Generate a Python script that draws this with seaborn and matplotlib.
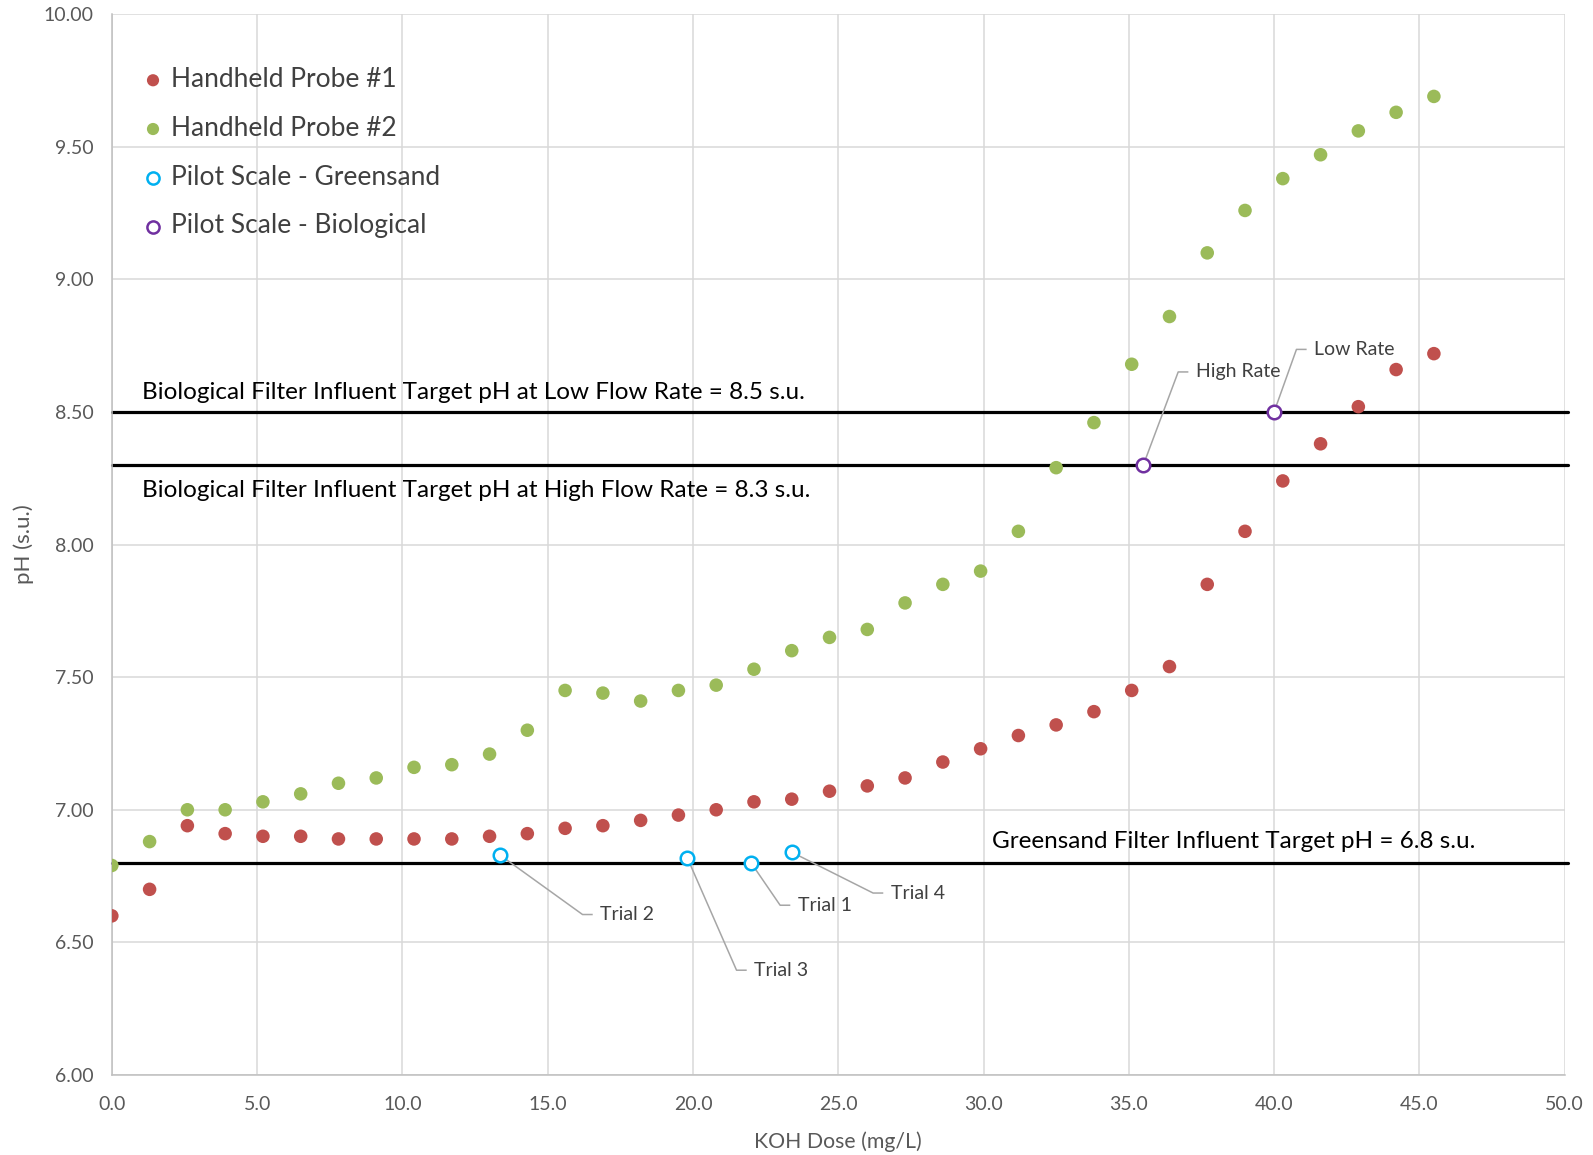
import numpy as np
import pandas as pd
import matplotlib
matplotlib.use("Agg")
import matplotlib.pyplot as plt
import seaborn as sns

# KOH dose (mg/L) for the handheld probe titration
dose = [0.0, 1.3, 2.6, 3.9, 5.2, 6.5, 7.8, 9.1, 10.4, 11.7, 13.0, 14.3,
        15.6, 16.9, 18.2, 19.5, 20.8, 22.1, 23.4, 24.7, 26.0, 27.3, 28.6, 29.9,
        31.2, 32.5, 33.8, 35.1, 36.4, 37.7, 39.0, 40.3, 41.6, 42.9, 44.2, 45.5]
probe1 = [6.60, 6.70, 6.94, 6.91, 6.90, 6.90, 6.89, 6.89, 6.89, 6.89, 6.90, 6.91,
          6.93, 6.94, 6.96, 6.98, 7.00, 7.03, 7.04, 7.07, 7.09, 7.12, 7.18, 7.23,
          7.28, 7.32, 7.37, 7.45, 7.54, 7.85, 8.05, 8.24, 8.38, 8.52, 8.66, 8.72]
probe2 = [6.79, 6.88, 7.00, 7.00, 7.03, 7.06, 7.10, 7.12, 7.16, 7.17, 7.21, 7.30,
          7.45, 7.44, 7.41, 7.45, 7.47, 7.53, 7.60, 7.65, 7.68, 7.78, 7.85, 7.90,
          8.05, 8.29, 8.46, 8.68, 8.86, 9.10, 9.26, 9.38, 9.47, 9.56, 9.63, 9.69]

# Pilot scale runs
green_dose = [22.0, 13.35, 19.8, 23.4]
green_ph = [6.80, 6.83, 6.82, 6.84]
green_labels = ["Trial 1", "Trial 2", "Trial 3", "Trial 4"]
bio_dose = [35.5, 40.0]
bio_ph = [8.30, 8.50]
bio_labels = ["High Rate", "Low Rate"]

# Target pH lines
target_low_flow = 8.5
target_high_flow = 8.3
target_greensand = 6.8

RED = "#C0504D"
GREEN = "#9BBB59"
CYAN = "#00B0F0"
PURPLE = "#7030A0"
TXT = "#404040"
TICK = "#595959"

sns.set_theme(style="white")
plt.rcParams["font.family"] = ["Lato", "DejaVu Sans"]

fig = plt.figure(figsize=(15.93, 11.55), dpi=100)
ax = fig.add_axes([0.0702, 0.0693, 0.912, 0.9184])

probes = pd.DataFrame({"dose": dose, "p1": probe1, "p2": probe2})
pilot_g = pd.DataFrame({"dose": green_dose, "ph": green_ph})
pilot_b = pd.DataFrame({"dose": bio_dose, "ph": bio_ph})

for y in (target_low_flow, target_high_flow, target_greensand):
    ax.axhline(y, xmax=1.002, color="black", lw=2.3, zorder=2, clip_on=False)

sns.scatterplot(data=probes, x="dose", y="p1", ax=ax, color=RED, s=95,
                edgecolor="none", zorder=3, label="Handheld Probe #1")
sns.scatterplot(data=probes, x="dose", y="p2", ax=ax, color=GREEN, s=95,
                edgecolor="none", zorder=3, label="Handheld Probe #2")
sns.scatterplot(data=pilot_g, x="dose", y="ph", ax=ax, facecolor="white",
                edgecolor=CYAN, linewidth=1.8, s=95, zorder=4,
                label="Pilot Scale - Greensand")
sns.scatterplot(data=pilot_b, x="dose", y="ph", ax=ax, facecolor="white",
                edgecolor=PURPLE, linewidth=1.8, s=95, zorder=4,
                label="Pilot Scale - Biological")

ax.set_xlim(0, 50)
ax.set_ylim(6, 10)
ax.set_xticks(np.arange(0, 50.1, 5))
ax.set_yticks(np.arange(6, 10.01, 0.5))
ax.set_xticklabels([f"{v:.1f}" for v in np.arange(0, 50.1, 5)])
ax.set_yticklabels([f"{v:.2f}" for v in np.arange(6, 10.01, 0.5)])
ax.tick_params(axis="both", labelsize=14, colors=TICK, length=0)
ax.tick_params(axis="x", pad=15)
ax.tick_params(axis="y", pad=13)
ax.grid(True, color="#D9D9D9", lw=1.1)
for side, sp in ax.spines.items():
    sp.set_visible(side in ("left", "bottom"))
    sp.set_color("#BFBFBF")
    sp.set_linewidth(1.1)
ax.set_axisbelow(True)
ax.set_xlabel("KOH Dose (mg/L)", fontsize=15.3, color=TICK, labelpad=13.5)
ax.set_ylabel("pH (s.u.)", fontsize=16, color=TICK, labelpad=7)

leg = ax.legend(loc="upper left", bbox_to_anchor=(0.012, 0.960), frameon=False,
                fontsize=19, labelcolor=TXT, handlelength=1.0, handletextpad=0.18,
                labelspacing=0.9, markerscale=0.9, borderaxespad=0)

# Target line captions
cap_kw = dict(fontsize=17.5, color="black", va="center")
ax.text(1.05, 8.575, f"Biological Filter Influent Target pH at Low Flow Rate = {target_low_flow} s.u.", **cap_kw)
ax.text(1.05, 8.203, f"Biological Filter Influent Target pH at High Flow Rate = {target_high_flow} s.u.", **cap_kw)
ax.text(30.3, 6.882, f"Greensand Filter Influent Target pH = {target_greensand} s.u.", **cap_kw)

# Leader-line callouts: (elbow x, elbow y) in data units
callout_elbows = {
    "Trial 1": (23.0, 6.64),
    "Trial 2": (16.2, 6.605),
    "Trial 3": (21.5, 6.395),
    "Trial 4": (26.2, 6.686),
    "High Rate": (36.7, 8.651),
    "Low Rate": (40.77, 8.736),
}
points = list(zip(green_dose, green_ph, green_labels)) + list(zip(bio_dose, bio_ph, bio_labels))
for px, py, lab in points:
    ex, ey = callout_elbows[lab]
    ax.plot([px, ex, ex + 0.35], [py, ey, ey], color="#A6A6A6", lw=1.1,
            zorder=3.5, solid_capstyle="butt")
    ax.text(ex + 0.6, ey, lab, fontsize=14, color=TXT, va="center", ha="left")

fig.savefig("out.png", dpi=100)
